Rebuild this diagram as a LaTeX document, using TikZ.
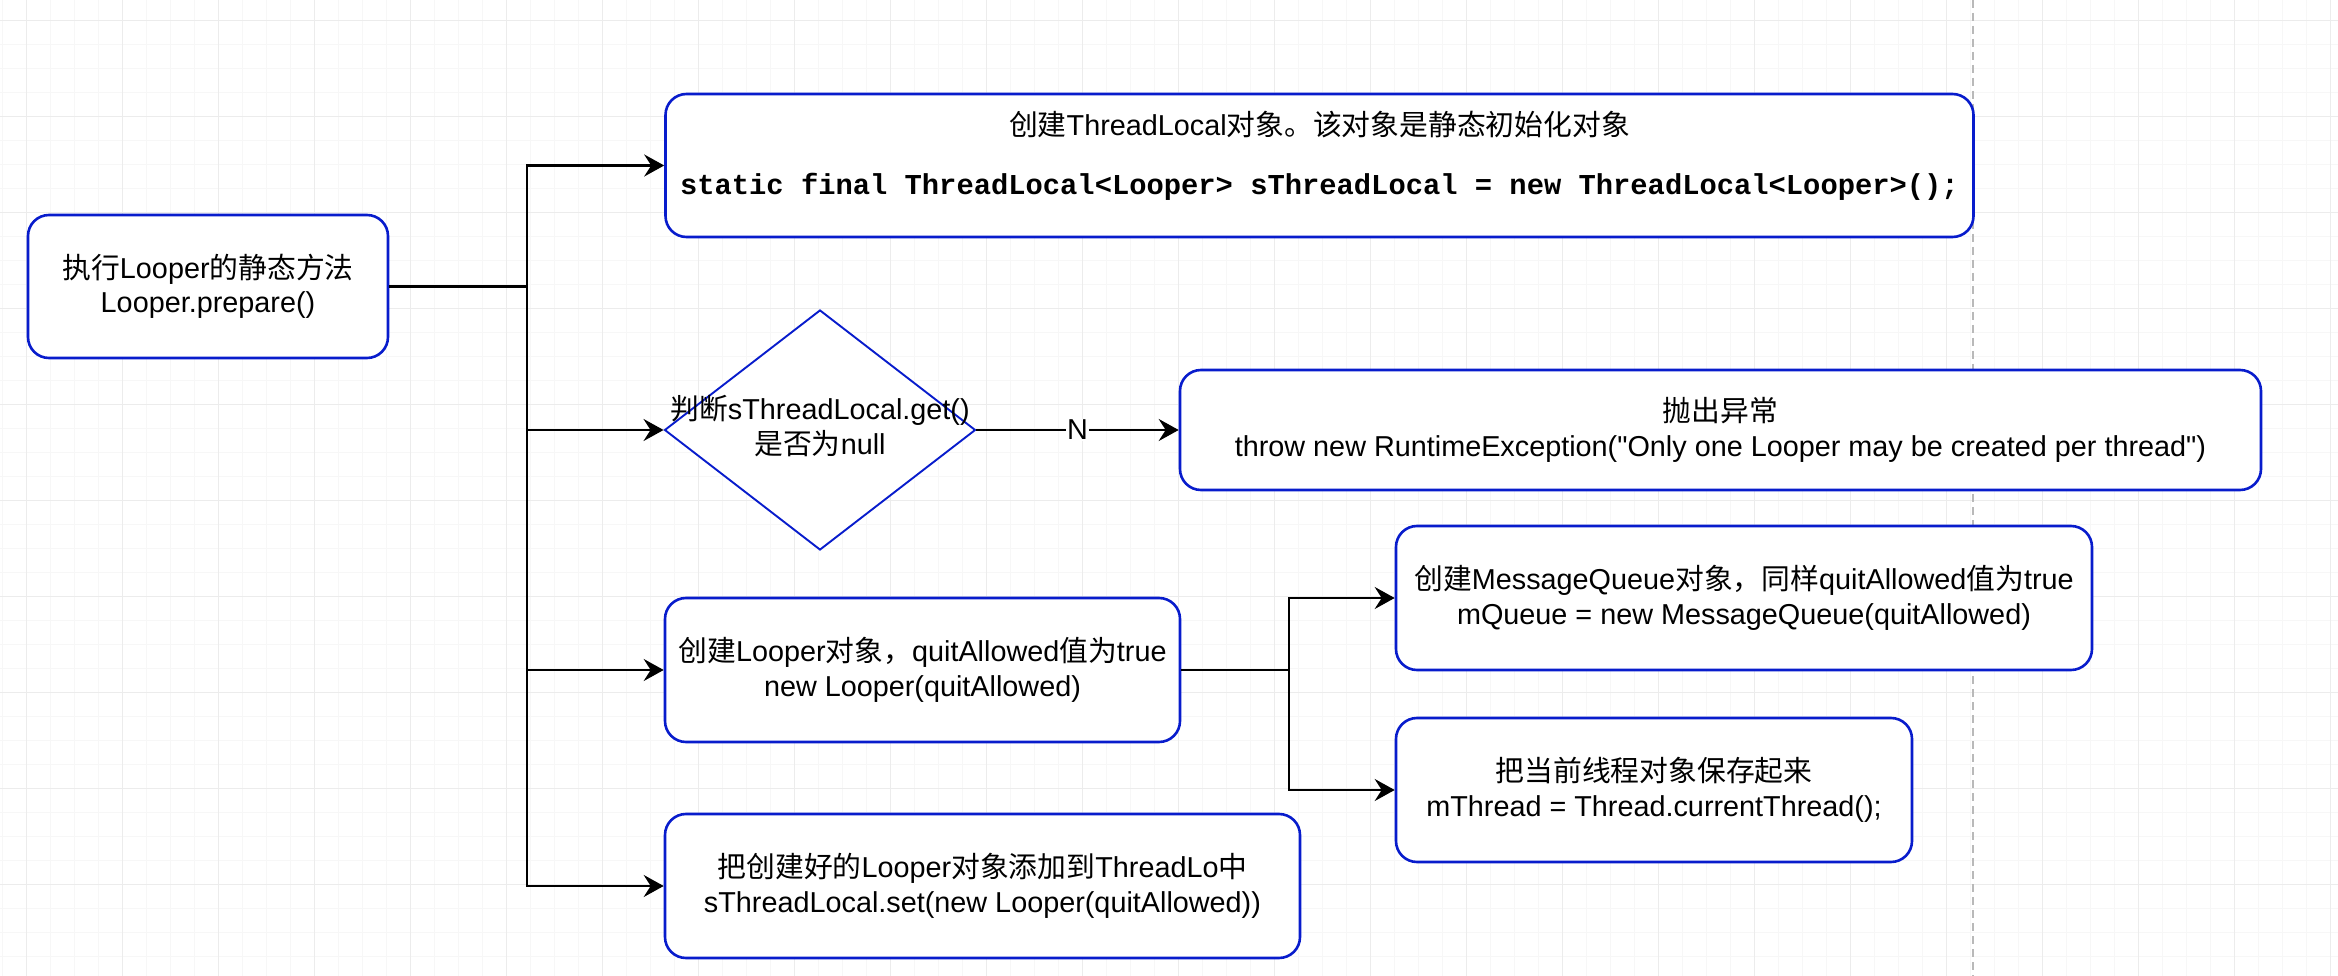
\documentclass[tikz,border=0pt]{standalone}
\usepackage{fontspec}
\setmainfont{Liberation Sans}
\newfontfamily\cjk{Noto Sans CJK SC}
\newfontfamily\codefont{Liberation Mono}
\usepackage{xcolor}
\usepackage{tikz}
\usetikzlibrary{arrows.meta,shapes.geometric}
\definecolor{boxblue}{RGB}{8,28,204}
\definecolor{gridmajor}{RGB}{236,236,236}
\definecolor{gridminor}{RGB}{247,247,247}
\newcommand{\zh}[1]{{\cjk #1}}
\tikzset{
  stepbox/.style={draw=boxblue,line width=2.6pt,rounded corners=21pt,fill=white,align=center,inner sep=0pt},
  decide/.style={diamond,draw=boxblue,line width=1.9pt,fill=white,inner sep=0pt,minimum width=311pt,minimum height=240pt},
  wire/.style={line width=2.6pt,black},
  flow/.style={wire,-{Stealth[length=20pt,width=22pt,inset=7pt]}},
}

\begin{document}
\begin{tikzpicture}[x=1pt,y=-1pt,font=\fontsize{28.8}{34.5}\selectfont]
    \useasboundingbox[fill=white] (0,0) rectangle (2338,976);
    % grid
    \foreach \gx in {2.7,26.7,...,2338}{
      \draw[gridminor,line width=1.5pt] (\gx,0) -- (\gx,976);
    }
    \foreach \gy in {-3.3,20.7,...,976}{
      \draw[gridminor,line width=1.5pt] (0,\gy) -- (2338,\gy);
    }
    \foreach \gx in {26.7,122.7,...,2338}{
      \draw[gridmajor,line width=1.5pt] (\gx,0) -- (\gx,976);
    }
    \foreach \gy in {20.7,116.7,...,976}{
      \draw[gridmajor,line width=1.5pt] (0,\gy) -- (2338,\gy);
    }
    \draw[gray!55,line width=1.5pt,dash pattern=on 8pt off 5pt] (1973,0) -- (1973,976);

    % boxes
    \node[stepbox,minimum width=360pt,minimum height=143pt] (prep) at (208,286.5)
      {\zh{执行}Looper\zh{的静态方法}\\Looper.prepare()};
    \node[stepbox,minimum width=1308pt,minimum height=143pt] (tlocal) at (1319.5,165.5)
      {\zh{创建}ThreadLocal\zh{对象。该对象是静态初始化对象}\\[24.5pt]
       \raisebox{0pt}[\height][26pt]{\codefont\bfseries static final ThreadLocal<Looper> sThreadLocal = new ThreadLocal<Looper>();}};
    \node[decide] (isnull) at (820,430)
      {\makebox[0pt]{\begin{tabular}{@{}c@{}}\zh{判断}sThreadLocal.get()\\\zh{是否为}null\end{tabular}}};
    \node[stepbox,minimum width=1081pt,minimum height=120pt] (throwex) at (1720.5,430)
      {\zh{抛出异常}\\throw new RuntimeException(\textquotedbl Only one Looper may be created per thread\textquotedbl)};
    \node[stepbox,minimum width=515pt,minimum height=144pt] (newlooper) at (922.5,670)
      {\zh{创建}Looper\zh{对象，}quitAllowed\zh{值为}true\\new Looper(quitAllowed)};
    \node[stepbox,minimum width=696pt,minimum height=144pt] (mqueue) at (1744,598)
      {\zh{创建}MessageQueue\zh{对象，同样}quitAllowed\zh{值为}true\\mQueue = new MessageQueue(quitAllowed)};
    \node[stepbox,minimum width=516pt,minimum height=144pt] (mthread) at (1654,790)
      {\zh{把当前线程对象保存起来}\\mThread = Thread.currentThread();};
    \node[stepbox,minimum width=635pt,minimum height=144pt] (tlset) at (982.5,886)
      {\zh{把创建好的}Looper\zh{对象添加到}ThreadLo\zh{中}\\sThreadLocal.set(new Looper(quitAllowed))};

    % connectors
    \coordinate (fork) at (527,286.5);
    \coordinate (fork2) at (1289,670);
    \draw[wire] (prep.east) -- (fork);
    \draw[flow] (fork) |- (tlocal.west);
    \draw[flow] (fork) |- (isnull.west);
    \draw[flow] (fork) |- (newlooper.west);
    \draw[flow] (fork) |- (tlset.west);
    \draw[flow] (isnull.east) -- node[fill=white,inner sep=1pt] (nlab) {N} (throwex.west);
    \draw[wire] (newlooper.east) -- (fork2);
    \draw[flow] (fork2) |- (mqueue.west);
    \draw[flow] (fork2) |- (mthread.west);
  \end{tikzpicture}
\end{document}
